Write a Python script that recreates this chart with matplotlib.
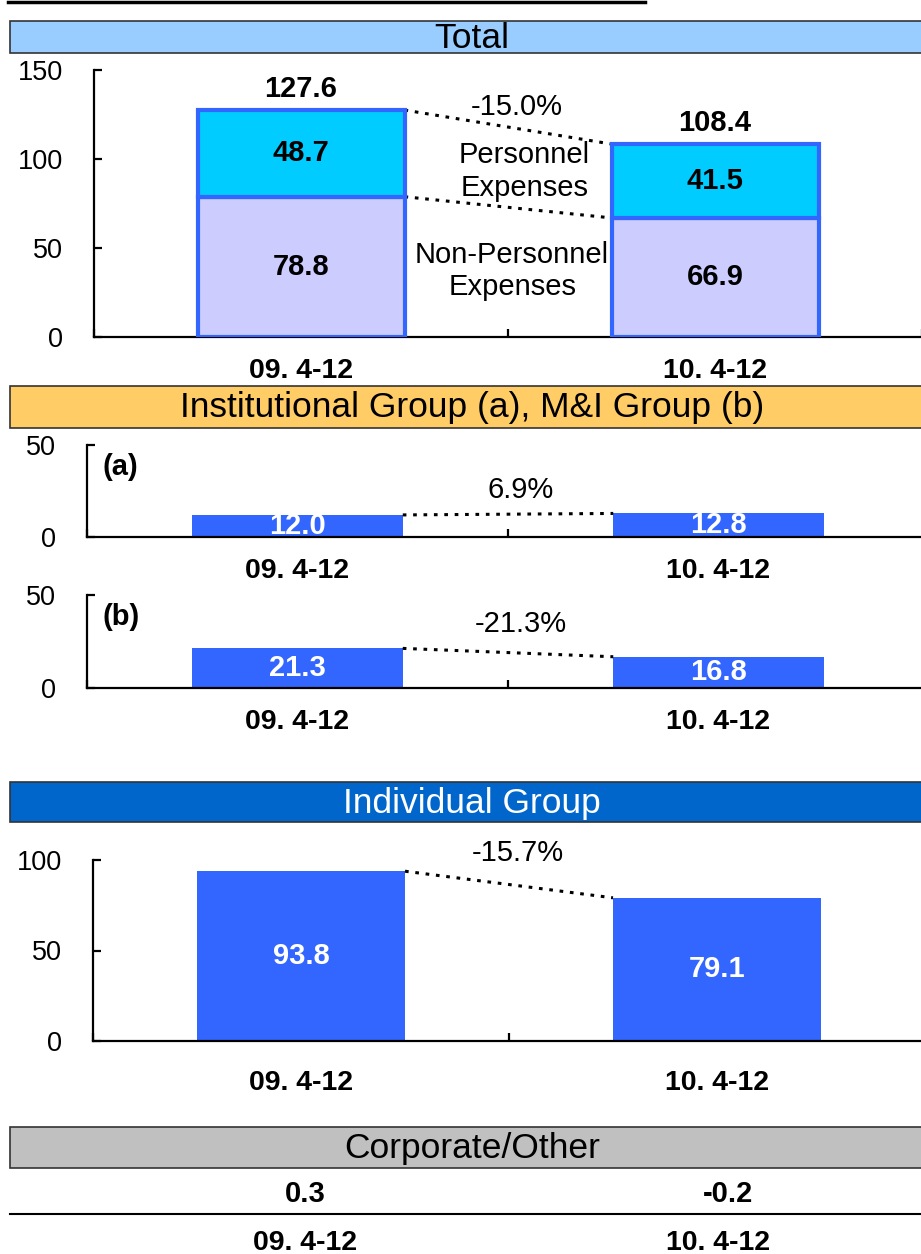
import matplotlib.pyplot as plt
from matplotlib.patches import Rectangle

W, H = 921, 1254

periods = ["09. 4-12", "10. 4-12"]

# Total expenses split
non_personnel = [78.8, 66.9]
personnel = [48.7, 41.5]
total_labels = ["127.6", "108.4"]
total_change = "-15.0%"

# Institutional (a) and M&I (b)
inst_values = [12.0, 12.8]
inst_change = "6.9%"
mi_values = [21.3, 16.8]
mi_change = "-21.3%"

# Individual
indiv_values = [93.8, 79.1]
indiv_change = "-15.7%"

# Corporate/Other
corp_values = ["0.3", "-0.2"]

BAR_BLUE = "#3366FF"
PERS_COL = "#00CCFF"
NONPERS_COL = "#CCCCFF"
FS = 21

plt.rcParams["font.family"] = ["Liberation Sans", "DejaVu Sans"]

fig = plt.figure(figsize=(W / 100, H / 100), dpi=100)


def fx(px):
    return px / W


def fy(py):
    return 1 - py / H


def header(y0, y1, label, face, tcolor="black"):
    fig.patches.append(Rectangle((fx(10), fy(y1)), fx(930), (y1 - y0) / H,
                                 transform=fig.transFigure, facecolor=face,
                                 edgecolor="#333333", lw=1.2))
    fig.text(fx(472), fy((y0 + y1) / 2 + 1), label, ha="center", va="center",
             fontsize=25.5, color=tcolor)


def make_axes(x_c0, x_c1, y_zero, y_top, top_val, yticks):
    unit = x_c1 - x_c0
    left = x_c0 - unit / 2
    ax = fig.add_axes([fx(left), fy(y_zero), 2 * unit / W, (y_zero - y_top) / H])
    ax.set_xlim(-0.5, 1.5)
    ax.set_ylim(0, top_val)
    for s in ["top", "right"]:
        ax.spines[s].set_visible(False)
    for s in ["left", "bottom"]:
        ax.spines[s].set_linewidth(1.6)
    ax.set_yticks(yticks)
    ax.tick_params(axis="y", direction="in", length=6, width=1.6, pad=22,
                   labelsize=19.5)
    ax.set_xticks([0, 1])
    ax.set_xticks([-0.5, 0.5, 1.5], minor=True)
    ax.set_xticklabels(periods, fontweight="bold", fontsize=20.5)
    ax.tick_params(axis="x", which="major", length=0, pad=15)
    ax.tick_params(axis="x", which="minor", direction="in", length=6, width=1.6)
    ax.patch.set_alpha(0)
    return ax


def connector(ax, y0, y1):
    ax.plot([0.25, 0.75], [y0, y1], color="black", lw=2.2,
            linestyle=(0, (1.2, 2.2)), clip_on=False, zorder=1)


# cut-off title underline at the very top
fig.add_artist(plt.Line2D([fx(8), fx(645)], [fy(1.5), fy(1.5)], color="black",
                          lw=2.5, transform=fig.transFigure))

# ---- Total ----
header(21, 53, "Total", "#99CCFF")
ax = make_axes(301, 715, 337, 70, 150, [0, 50, 100, 150])
x = [0, 1]
ax.bar(x, non_personnel, width=0.5, color=NONPERS_COL, edgecolor=BAR_BLUE, lw=3, zorder=3)
ax.bar(x, personnel, width=0.5, bottom=non_personnel, color=PERS_COL,
       edgecolor=BAR_BLUE, lw=3, zorder=3)
tops = [a + b for a, b in zip(non_personnel, personnel)]
for i in x:
    ax.text(i, non_personnel[i] / 2, f"{non_personnel[i]:.1f}", ha="center",
            va="center", fontsize=FS, fontweight="bold", zorder=4)
    ax.text(i, non_personnel[i] + personnel[i] / 2, f"{personnel[i]:.1f}",
            ha="center", va="center", fontsize=FS, fontweight="bold", zorder=4)
    ax.text(i, tops[i] + 12, total_labels[i], ha="center", va="center",
            fontsize=FS, fontweight="bold")
connector(ax, tops[0], tops[1])
connector(ax, non_personnel[0], non_personnel[1])
ax.text(0.52, 129, total_change, ha="center", va="center", fontsize=FS)
ax.text(0.54, 93, "Personnel\nExpenses", ha="center", va="center", fontsize=FS,
        linespacing=1.2)
ax.text(0.51, 37, "Non-Personnel\nExpenses", ha="center", va="center",
        fontsize=FS, linespacing=1.2)

# ---- Institutional / M&I ----
header(386, 428, "Institutional Group (a), M&I Group (b)", "#FFCC66")
for vals, change, tag, yz, yt in [(inst_values, inst_change, "(a)", 537, 445),
                                  (mi_values, mi_change, "(b)", 688, 595)]:
    ax = make_axes(297.5, 718.5, yz, yt, 50, [0, 50])
    ax.bar(x, vals, width=0.5, color=BAR_BLUE, zorder=0)
    for i in x:
        ax.text(i, vals[i] / 2, f"{vals[i]:.1f}", ha="center", va="center",
                fontsize=FS, fontweight="bold", color="white")
    connector(ax, vals[0], vals[1])
    ax.text(0.019, 38, tag, ha="left", va="center", fontsize=FS, fontweight="bold",
            transform=ax.get_yaxis_transform())
    ax.text(0.53, max(vals) + 13, change, ha="center", va="center", fontsize=FS)

# ---- Individual ----
header(782, 822, "Individual Group", "#0066CC", tcolor="white")
ax = make_axes(301, 717, 1041, 860, 100, [0, 50, 100])
ax.bar(x, indiv_values, width=0.5, color=BAR_BLUE, zorder=0)
for i in x:
    ax.text(i, indiv_values[i] / 2, f"{indiv_values[i]:.1f}", ha="center",
            va="center", fontsize=FS, fontweight="bold", color="white")
connector(ax, indiv_values[0], indiv_values[1])
ax.text(0.52, 104, indiv_change, ha="center", va="center", fontsize=FS)
ax.tick_params(axis="x", which="major", pad=21)

# ---- Corporate/Other ----
header(1127, 1168, "Corporate/Other", "#C0C0C0")
for xc, v, p in zip([305, 728], corp_values, periods):
    fig.text(fx(xc), fy(1194), v, ha="center", va="center", fontsize=FS,
             fontweight="bold")
    fig.text(fx(xc - 10 if xc > 400 else xc), fy(1243), p, ha="center",
             va="center", fontsize=20.5, fontweight="bold")
fig.add_artist(plt.Line2D([fx(10), fx(921)], [fy(1214), fy(1214)], color="black",
                          lw=1.5, transform=fig.transFigure))

fig.savefig("out.png", dpi=100)
